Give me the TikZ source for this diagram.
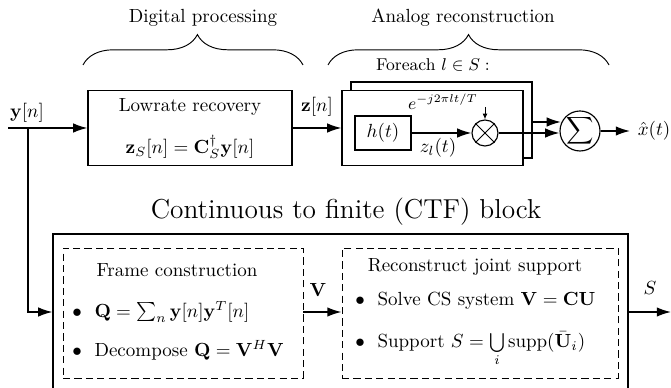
\documentclass[tikz,border=0pt]{standalone}
\usetikzlibrary{arrows.meta,decorations.pathreplacing}
\def\PX{0.5263pt}
\begin{document}
\begin{tikzpicture}[x=0.5263pt,y=-0.5263pt,
  sig/.style={line width=0.8pt},
  arr/.style={sig,-{Latex[length=7.5pt,width=5pt]}},
  box/.style={draw,line width=0.6pt,inner sep=0pt,rectangle},
  dbox/.style={draw,line width=0.5pt,dash pattern=on 3.8pt off 2.2pt,inner sep=0pt,rectangle},
  brc/.style={decorate,decoration={brace,amplitude=16pt,aspect=0.52},line width=0.5pt},
  brc2/.style={decorate,decoration={brace,amplitude=16pt},line width=0.5pt}]
\useasboundingbox (0,0) rectangle (671,388);
\clip (0,0) rectangle (671,388);

% ---- top: digital processing
\draw[brc] (83,65) -- (303,65);
\node (dp) at (203,18) {Digital processing};
\draw[brc2] (328,65) -- (609,65);
\node (ar) at (463,18) {Analog reconstruction};

\node[box,minimum width=204*\PX,minimum height=75*\PX] (lr) at (190,128) {};
\node (lrt) at (190,107) {Lowrate recovery};
\node (lrf) at (190,147) {$\mathbf{z}_S[n]=\mathbf{C}_S^\dagger\mathbf{y}[n]$};

\node (yl) at (27,113) {$\mathbf{y}[n]$};
\coordinate (in) at (8,128);
\coordinate (br) at (28,128);
\draw[arr] (in) -- (lr.west);

\node (zl) at (317,107) {$\mathbf{z}[n]$};

% ---- analog reconstruction
\node[font=\small] (fe) at (433,65) {Foreach $l\in S:$};
\node[box,fill=white,minimum width=181*\PX,minimum height=76*\PX] (bb) at (441.5,120) {};
\node[box,fill=white,minimum width=181*\PX,minimum height=75*\PX] (fb) at (432.5,128) {};
\draw[arr] (lr.east) -- (fb.west);

\node[box,minimum width=56*\PX,minimum height=34*\PX] (ht) at (383,133) {$h(t)$};
\node[draw,circle,line width=0.6pt,inner sep=0pt,minimum size=26*\PX] (mul) at (485,133) {};
\draw[line width=0.5pt] (mul.north west) -- (mul.south east) (mul.north east) -- (mul.south west);
\coordinate (ein) at (485,107);
\draw[line width=0.5pt,-{Latex[length=3pt,width=2.5pt]}] (ein) -- (mul.north);
\node[font=\small] (ex) at (443,102) {$e^{-j2\pi lt/T}$};
\node (zlt) at (438,148) {$z_l(t)$};
\draw[arr] (ht.east) -- (mul.west);

\node[draw,circle,line width=0.6pt,inner sep=0pt,minimum size=40*\PX] (sm) at (580,131) {};
\node[inner sep=0pt] (smt) at (sm.center) {$\displaystyle\sum$};
\draw[arr] (mul.east) -- (mul.east -| sm.west);
\draw[arr] (bb.east |- 0,122) -- ([xshift=1.5*\PX]sm.west |- 0,122);
\node[inner sep=1pt] (xh) at (654,131) {$\hat{x}(t)$};
\coordinate (xin) at (630,131);
\draw[arr] (sm.east) -- (xin);

% ---- CTF block
\node[font=\Large] (ctft) at (346,212) {Continuous to finite (CTF) block};
\node[box,minimum width=575*\PX,minimum height=180*\PX] (ctf) at (340.5,324) {};

\node[dbox,minimum width=240*\PX,minimum height=130*\PX] (fc) at (183,313) {};
\node (fct) at (177,270) {Frame construction};
\node[anchor=west,inner sep=0pt] (fc1) at (72,312) {$\bullet$\ \ $\mathbf{Q}=\sum_n\mathbf{y}[n]\mathbf{y}^T[n]$};
\node[anchor=west,inner sep=0pt] (fc2) at (72,350) {$\bullet$\ \ Decompose $\mathbf{Q}=\mathbf{V}^H\mathbf{V}$};

\draw[arr] (br) |- (fc1 -| ctf.west);

\node[dbox,minimum width=276*\PX,minimum height=130*\PX] (rs) at (480,313) {};
\node (rst) at (475,267) {Reconstruct joint support};
\node[anchor=west,inner sep=0pt] (rs1) at (355,301) {$\bullet$\ \ Solve CS system $\mathbf{V}=\mathbf{CU}$};
\node[anchor=west,inner sep=0pt] (rs2) at (355,349) {$\bullet$\ \ Support $S=\bigcup\limits_i\mathrm{supp}(\bar{\mathbf{U}}_i)$};

\draw[arr] (fc1 -| fc.east) -- (fc1 -| rs.west);
\node (vl) at (318,290) {$\mathbf{V}$};

\coordinate (out) at (671,312);
\draw[arr] (fc1 -| ctf.east) -- (out);
\node (sl) at (650,288) {$S$};
\end{tikzpicture}
\end{document}
